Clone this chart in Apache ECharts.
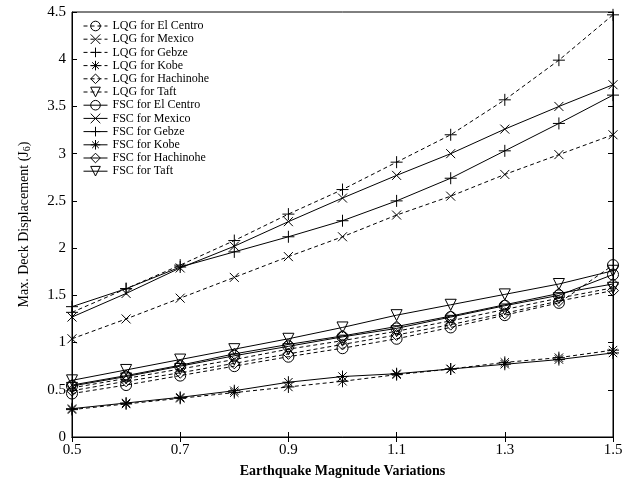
<!DOCTYPE html>
<html>
<head>
<meta charset="utf-8">
<script src="https://cdn.jsdelivr.net/npm/echarts@6/dist/echarts.min.js"></script>
<style>html,body{margin:0;padding:0;background:#fff}#c{width:642px;height:483px}</style>
</head>
<body>
<div id="c"></div>
<script>
var categories = ['0.5','0.6','0.7','0.8','0.9','1','1.1','1.2','1.3','1.4','1.5'];
var xTickLabels = ['0.5','0.7','0.9','1.1','1.3','1.5'];
var yTicks = [0,0.5,1,1.5,2,2.5,3,3.5,4,4.5];

var lqgElCentro  = [0.46,0.55,0.65,0.75,0.85,0.94,1.04,1.16,1.29,1.42,1.82];
var lqgMexico    = [1.04,1.25,1.47,1.69,1.91,2.12,2.35,2.55,2.78,2.99,3.20];
var lqgGebze     = [1.32,1.57,1.82,2.08,2.36,2.62,2.91,3.20,3.57,3.99,4.47];
var lqgKobe      = [0.29,0.35,0.41,0.47,0.53,0.59,0.66,0.72,0.79,0.84,0.92];
var lqgHachinohe = [0.49,0.59,0.68,0.78,0.88,0.98,1.08,1.19,1.31,1.44,1.55];
var lqgTaft      = [0.52,0.62,0.72,0.82,0.93,1.02,1.12,1.23,1.35,1.47,1.58];
var fscElCentro  = [0.54,0.64,0.75,0.86,0.96,1.06,1.15,1.27,1.39,1.50,1.72];
var fscMexico    = [1.27,1.52,1.79,2.02,2.28,2.53,2.77,3.00,3.26,3.50,3.73];
var fscGebze     = [1.38,1.57,1.80,1.96,2.12,2.29,2.50,2.74,3.03,3.32,3.62];
var fscKobe      = [0.30,0.36,0.42,0.49,0.58,0.64,0.67,0.72,0.77,0.82,0.89];
var fscHachinohe = [0.55,0.65,0.76,0.88,0.98,1.07,1.17,1.28,1.40,1.52,1.62];
var fscTaft      = [0.60,0.71,0.82,0.93,1.04,1.16,1.29,1.40,1.51,1.62,1.76];

var SYM = {
  circle: 'circle',
  x: 'path://M-4,-4L4,4M-4,4L4,-4',
  plus: 'path://M0,-5L0,5M-5,0L5,0',
  star: 'path://M0,-5L0,5M-5,0L5,0M-3.5,-3.5L3.5,3.5M-3.5,3.5L3.5,-3.5',
  diamond: 'path://M0,-5L5,0L0,5L-5,0Z',
  tri: 'path://M-5,-4L5,-4L0,5Z'
};
var SIZE = {circle:11, x:9, plus:12, star:12, diamond:11, tri:11};
var DASH = [4,3];

function mk(name, data, sym, dashed) {
  return {
    name: name, type: 'line', data: data,
    symbol: SYM[sym], symbolSize: SIZE[sym], showSymbol: true,
    itemStyle: {color: 'rgba(0,0,0,0)', borderColor: '#000', borderWidth: 1},
    lineStyle: {color: '#000', width: 1, type: dashed ? DASH : 'solid'},
    emphasis: {disabled: true}, animation: false, z: 3
  };
}

var series = [
  mk('LQG for El Centro', lqgElCentro, 'circle', true),
  mk('LQG for Mexico', lqgMexico, 'x', true),
  mk('LQG for Gebze', lqgGebze, 'plus', true),
  mk('LQG for Kobe', lqgKobe, 'star', true),
  mk('LQG for Hachinohe', lqgHachinohe, 'diamond', true),
  mk('LQG for Taft', lqgTaft, 'tri', true),
  mk('FSC for El Centro', fscElCentro, 'circle', false),
  mk('FSC for Mexico', fscMexico, 'x', false),
  mk('FSC for Gebze', fscGebze, 'plus', false),
  mk('FSC for Kobe', fscKobe, 'star', false),
  mk('FSC for Hachinohe', fscHachinohe, 'diamond', false),
  mk('FSC for Taft', fscTaft, 'tri', false)
];

var legendData = series.map(function(s){
  return {name: s.name,
    itemStyle: {color: 'rgba(0,0,0,0)', borderColor: '#000', borderWidth: 1},
    lineStyle: {color: '#000', width: 1, type: s.lineStyle.type}};
});

var FONT = 'Liberation Serif';
var chart = echarts.init(document.getElementById('c'), null, {renderer: 'canvas'});
chart.setOption({
  backgroundColor: '#fff',
  animation: false,
  textStyle: {fontFamily: FONT, color: '#000'},
  grid: {left: 72, right: 29, top: 12, bottom: 44, show: true, borderColor: '#000', borderWidth: 1, backgroundColor: 'transparent'},
  legend: {
    orient: 'vertical', left: 78, top: 15, itemGap: 1.2, itemWidth: 24, itemHeight: 12,
    textStyle: {fontFamily: FONT, fontSize: 12, color: '#000'},
    itemStyle: {borderWidth: 1},
    lineStyle: {width: 1},
    data: legendData,
    selectedMode: false
  },
  xAxis: [{
    type: 'category', data: categories, boundaryGap: false, position: 'bottom',
    name: 'Earthquake Magnitude Variations', nameLocation: 'middle', nameGap: 27,
    nameTextStyle: {fontFamily: FONT, fontSize: 14, fontWeight: 'bold', color: '#000'},
    axisLine: {lineStyle: {color: '#000', width: 1}},
    axisTick: {inside: true, length: 5, interval: 1, lineStyle: {color: '#000'}},
    axisLabel: {interval: 1, fontFamily: FONT, fontSize: 15, color: '#000', margin: 6,
      formatter: function(v){ return xTickLabels.indexOf(v) >= 0 ? v : ''; }},
    splitLine: {show: false}
  }, {
    type: 'category', data: categories, boundaryGap: false, position: 'top',
    axisLine: {lineStyle: {color: '#000', width: 1}},
    axisTick: {inside: true, length: 5, interval: 1, lineStyle: {color: '#000'}},
    axisLabel: {show: false}, splitLine: {show: false}
  }],
  yAxis: [{
    type: 'value', min: 0, max: 4.5, interval: 0.5, position: 'left',
    name: 'Max. Deck Displacement (J{sub|6})', nameLocation: 'middle', nameGap: 40,
    nameTextStyle: {fontFamily: FONT, fontSize: 14, color: '#000',
      rich: {sub: {fontFamily: FONT, fontSize: 10, color: '#000', verticalAlign: 'bottom', padding: [6,0,0,0]}}},
    axisLine: {show: true, lineStyle: {color: '#000', width: 1}},
    axisTick: {show: true, inside: true, length: 5, lineStyle: {color: '#000'}},
    axisLabel: {fontFamily: FONT, fontSize: 15, color: '#000', margin: 6,
      formatter: function(v){ return yTicks.indexOf(v) >= 0 ? String(v) : ''; }},
    splitLine: {show: false}
  }, {
    type: 'value', min: 0, max: 4.5, interval: 0.5, position: 'right',
    axisLine: {show: true, lineStyle: {color: '#000', width: 1}},
    axisTick: {show: true, inside: true, length: 5, lineStyle: {color: '#000'}},
    axisLabel: {show: false}, splitLine: {show: false}
  }],
  series: series
});
</script>
</body>
</html>
